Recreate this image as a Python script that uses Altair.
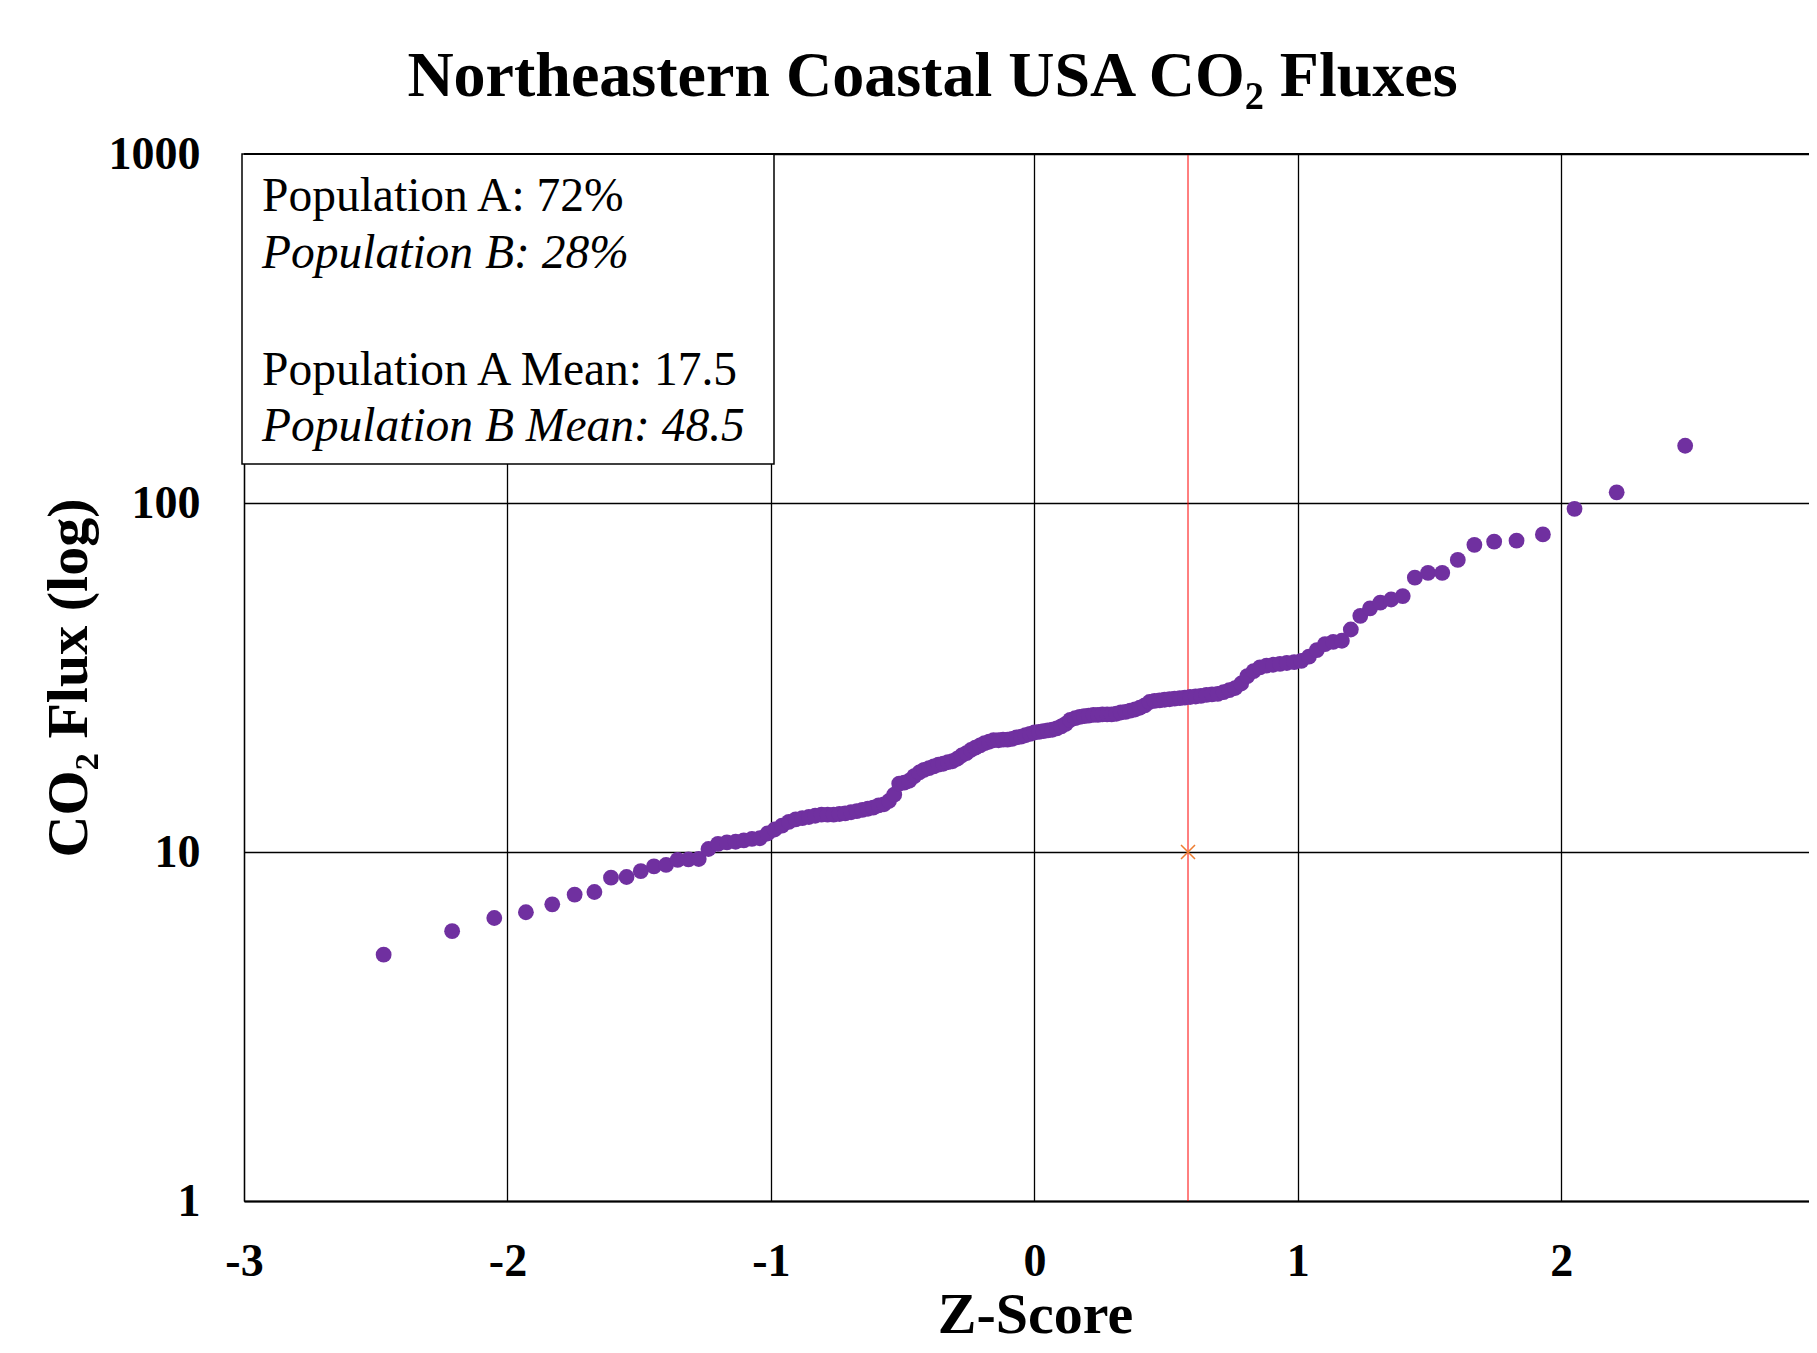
import altair as alt
import pandas as pd

# ---- data (normal scores vs. sorted CO2 flux) ----
z_scores = [
    -2.47, -2.21, -2.05, -1.93, -1.83, -1.745, -1.67, -1.607, -1.548, -1.494,
    -1.444, -1.398, -1.354, -1.313, -1.274, -1.237, -1.201, -1.167, -1.134, -1.103,
    -1.072, -1.042, -1.013, -0.986, -0.958, -0.932, -0.906, -0.881, -0.856, -0.832,
    -0.808, -0.785, -0.762, -0.740, -0.718, -0.696, -0.674, -0.653, -0.632, -0.612,
    -0.591, -0.571, -0.552, -0.532, -0.513, -0.494, -0.475, -0.456, -0.437, -0.419,
    -0.400, -0.382, -0.364, -0.346, -0.328, -0.311, -0.293, -0.276, -0.258, -0.241,
    -0.224, -0.206, -0.189, -0.172, -0.155, -0.136, -0.119, -0.102, -0.085, -0.068,
    -0.051, -0.034, -0.017, 0.0,
    0.017, 0.034, 0.051, 0.068, 0.085, 0.102, 0.119, 0.136, 0.155, 0.172,
    0.189, 0.206, 0.224, 0.241, 0.258, 0.276, 0.293, 0.311, 0.328, 0.346,
    0.364, 0.382, 0.400, 0.419, 0.437, 0.456, 0.475, 0.494, 0.513, 0.532,
    0.552, 0.571, 0.591, 0.612, 0.632, 0.653, 0.674, 0.696, 0.718, 0.740,
    0.762, 0.785, 0.808, 0.832, 0.856, 0.881, 0.906, 0.932, 0.958, 0.986,
    1.013, 1.042, 1.072, 1.103, 1.134, 1.167, 1.201, 1.237, 1.274, 1.313,
    1.354, 1.398, 1.444, 1.494, 1.548, 1.607, 1.67, 1.745, 1.83, 1.93,
    2.05, 2.21, 2.47,
]

co2_flux = [
    5.08, 5.93, 6.47, 6.72, 7.08, 7.55, 7.68, 8.44, 8.48, 8.81,
    9.10, 9.18, 9.49, 9.53, 9.55, 10.2, 10.55, 10.65, 10.7, 10.8,
    10.9, 10.95, 11.3, 11.6, 11.9, 12.2, 12.4, 12.5, 12.6, 12.7,
    12.8, 12.8, 12.8, 12.85, 12.9, 13.0, 13.1, 13.2, 13.3, 13.4,
    13.6, 13.7, 14.0, 14.6, 15.7, 15.8, 16.0, 16.5, 16.9, 17.2,
    17.4, 17.6, 17.8, 17.9, 18.1, 18.2, 18.5, 18.9, 19.2, 19.6,
    19.9, 20.2, 20.5, 20.7, 20.9, 20.9, 21.0, 21.0, 21.1, 21.3,
    21.4, 21.6, 21.8, 22.0,
    22.1, 22.2, 22.3, 22.4, 22.6, 22.9, 23.3, 23.9, 24.2, 24.4,
    24.5, 24.6, 24.7, 24.7, 24.8, 24.8, 24.8, 24.9, 25.1, 25.2,
    25.4, 25.6, 25.9, 26.3, 26.9, 27.1, 27.2, 27.3, 27.4, 27.5,
    27.6, 27.7, 27.8, 27.9, 28.0, 28.2, 28.3, 28.4, 28.7, 29.1,
    29.5, 30.4, 31.9, 33.0, 33.8, 34.2, 34.4, 34.6, 34.8, 35.0,
    35.3, 36.3, 37.9, 39.4, 40.0, 40.3, 43.4, 47.5, 49.9, 51.8,
    52.9, 54.1, 61.1, 63.1, 63.1, 68.7, 75.9, 77.5, 78.0, 81.3,
    96.2, 107.3, 145.9,
]

cutoff_z = [0.583]        # red vertical line (72% split)
marker_z = [0.583]        # orange "x" marker
marker_flux = [10]

x_tick_values = [-3, -2, -1, 0, 1, 2, 3]
y_tick_values = [1, 10, 100, 1000]

legend_regular = ["Population A: 72%", "Population A Mean: 17.5"]
legend_italic = ["Population B: 28%", "Population B Mean: 48.5"]

title_text = "Northeastern Coastal USA CO\u2082 Fluxes"
x_title = "Z-Score"
y_title = "CO\u2082 Flux (log)"

# ---- chart ----
W = 1565
H = 1047
FONT = "Liberation Serif"

df = pd.DataFrame({"z": z_scores, "flux": co2_flux})
cut_df = pd.DataFrame({"z": cutoff_z})
mark_df = pd.DataFrame({"z": marker_z, "flux": marker_flux})
dummy = pd.DataFrame({"k": [0]})

x_scale = alt.Scale(domain=[-3, 2.94], nice=False, zero=False)
y_scale = alt.Scale(type="log", domain=[1, 1000], nice=False)

x_axis = alt.Axis(
    values=x_tick_values,
    title=x_title,
    labelExpr="datum.value < 0 ? '-' + format(-datum.value, 'd') : format(datum.value, 'd')",
    labelFont=FONT, labelFontSize=46, labelFontWeight="bold", labelColor="black",
    labelPadding=74, labelBaseline="alphabetic", labelFlush=False,
    labelOverlap=False, labelBound=False,
    ticks=False, tickSize=0,
    domain=True, domainColor="black", domainWidth=2,
    grid=True, gridColor="black", gridWidth=1.3, gridOpacity=1,
    titleFont=FONT, titleFontSize=58, titleFontWeight="bold", titleColor="black",
    titleX=791, titleY=131, titleBaseline="alphabetic", titleAlign="center", titleAngle=0,
)
y_axis = alt.Axis(
    values=y_tick_values,
    title=y_title,
    format="d",
    labelFont=FONT, labelFontSize=46, labelFontWeight="bold", labelColor="black",
    labelPadding=44, labelBaseline="middle", labelFlush=False,
    labelOverlap=False, labelBound=False,
    ticks=False, tickSize=0,
    domain=True, domainColor="black", domainWidth=1.3,
    grid=True, gridColor="black", gridWidth=1.3, gridOpacity=1,
    titleFont=FONT, titleFontSize=58, titleFontWeight="bold", titleColor="black",
    titleX=-158, titleY=523.5, titleBaseline="alphabetic", titleAlign="center", titleAngle=270,
)

cut_line = alt.Chart(cut_df).mark_rule(color="#FF0000", strokeWidth=1).encode(
    x=alt.X("z:Q", scale=x_scale, axis=x_axis)
)

points = alt.Chart(df).mark_circle(size=250, color="#7030A0", opacity=1).encode(
    x=alt.X("z:Q", scale=x_scale, axis=x_axis),
    y=alt.Y("flux:Q", scale=y_scale, axis=y_axis),
)

marker = alt.Chart(mark_df).mark_point(
    shape="M-1,-1L1,1M-1,1L1,-1", size=196, filled=False,
    color="#ED7D31", strokeWidth=1.5, opacity=1,
).encode(
    x=alt.X("z:Q", scale=x_scale, axis=x_axis),
    y=alt.Y("flux:Q", scale=y_scale, axis=y_axis),
)

box = alt.Chart(dummy).mark_rect(fill="white", stroke="black", strokeWidth=1.5).encode(
    x=alt.value(-2), x2=alt.value(530), y=alt.value(0), y2=alt.value(310)
)

top_border = alt.Chart(dummy).mark_rule(color="black", strokeWidth=2).encode(
    x=alt.value(0), x2=alt.value(W), y=alt.value(0)
)

def text_line(txt, ypos, style):
    return alt.Chart(pd.DataFrame({"t": [txt]})).mark_text(
        font=FONT, fontSize=47.5, fontStyle=style, color="black",
        align="left", baseline="alphabetic",
    ).encode(text="t:N", x=alt.value(18), y=alt.value(ypos))

texts = [
    text_line(legend_regular[0], 57, "normal"),
    text_line(legend_italic[0], 114, "italic"),
    text_line(legend_regular[1], 231, "normal"),
    text_line(legend_italic[1], 287, "italic"),
]

chart = alt.layer(
    cut_line, points, marker, box, *texts, top_border
).properties(
    width=W,
    height=H,
    title=alt.TitleParams(
        title_text, font=FONT, fontSize=64, fontWeight="bold", color="black",
        anchor="middle", frame="group", dx=-94, dy=61, baseline="alphabetic", offset=32,
    ),
    padding={"left": 236, "top": 146, "right": 0, "bottom": 143},
    autosize=alt.AutoSizeParams(type="none"),
).configure_view(stroke=None).configure(background="white")

chart.save("out.html", embed_options={"renderer": "svg", "actions": False})
